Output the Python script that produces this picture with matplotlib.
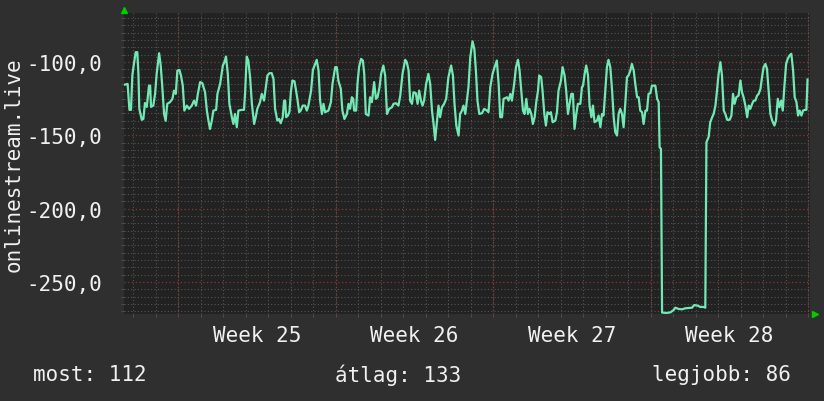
import numpy as np
import matplotlib
matplotlib.use("Agg")
import matplotlib.pyplot as plt
from matplotlib.ticker import FixedLocator, MultipleLocator, FuncFormatter

# time in days since the left edge of the graph, signal value
days = [0.04, 0.16, 0.24, 0.31, 0.37, 0.44, 0.52, 0.59, 0.64, 0.68, 0.79, 0.86, 0.93, 1.01, 1.11, 1.16,
        1.20, 1.30, 1.38, 1.45, 1.56, 1.63, 1.70, 1.78, 1.85, 1.92, 2.04, 2.15, 2.22, 2.30, 2.37, 2.46,
        2.53, 2.61, 2.68, 2.79, 2.89, 3.01, 3.11, 3.20, 3.28, 3.38, 3.48, 3.60, 3.68, 3.75, 3.82, 3.90,
        3.97, 4.09, 4.15, 4.27, 4.39, 4.46, 4.53, 4.61, 4.68, 4.79, 4.86, 4.93, 5.01, 5.08, 5.23, 5.33,
        5.38, 5.45, 5.52, 5.60, 5.68, 5.78, 5.85, 5.92, 6.04, 6.12, 6.22, 6.30, 6.37, 6.46, 6.56, 6.64,
        6.71, 6.81, 6.89, 6.96, 7.05, 7.11, 7.16, 7.20, 7.28, 7.35, 7.41, 7.48, 7.57, 7.63, 7.70, 7.78,
        7.85, 7.94, 8.04, 8.12, 8.19, 8.31, 8.39, 8.49, 8.56, 8.64, 8.71, 8.79, 8.86, 8.93, 9.08, 9.19,
        9.26, 9.38, 9.45, 9.52, 9.63, 9.70, 9.79, 9.90, 9.97, 10.04, 10.12, 10.18, 10.22, 10.31, 10.37,
        10.44, 10.53, 10.61, 10.67, 10.74, 10.86, 10.93, 11.01, 11.11, 11.19, 11.26, 11.35, 11.42, 11.52,
        11.60, 11.68, 11.78, 11.90, 11.97, 12.08, 12.19, 12.27, 12.37, 12.49, 12.56, 12.64, 12.71, 12.79,
        12.86, 12.96, 13.04, 13.11, 13.19, 13.26, 13.33, 13.42, 13.52, 13.60, 13.68, 13.75, 13.82, 13.90,
        13.97, 14.04, 14.12, 14.22, 14.31, 14.41, 14.53, 14.61, 14.68, 14.76, 14.86, 14.93, 15.01, 15.08,
        15.16, 15.23, 15.30, 15.38, 15.48, 15.56, 15.63, 15.70, 15.78, 15.90, 16.00, 16.12, 16.19, 16.27,
        16.37, 16.46, 16.56, 16.64, 16.71, 16.79, 16.86, 17.01, 17.08, 17.16, 17.23, 17.33, 17.41, 17.50,
        17.57, 17.64, 17.72, 17.79, 17.87, 17.94, 18.01, 18.09, 18.16, 18.24, 18.31, 18.39, 18.44, 18.53,
        18.59, 18.67, 18.74, 18.81, 18.89, 18.96, 19.04, 19.16, 19.23, 19.30, 19.41, 19.48, 19.57, 19.64,
        19.72, 19.79, 19.87, 19.94, 20.01, 20.09, 20.16, 20.27, 20.34, 20.39, 20.46, 20.53, 20.61, 20.68,
        20.76, 20.83, 20.90, 21.01, 21.08, 21.16, 21.23, 21.30, 21.38, 21.45, 21.52, 21.60, 21.68, 21.75,
        21.82, 21.90, 21.97, 22.04, 22.12, 22.19, 22.27, 22.34, 22.41, 22.49, 22.56, 22.64, 22.71, 22.79,
        22.86, 22.93, 23.01, 23.08, 23.16, 23.23, 23.30, 23.38, 23.45, 23.60, 23.68, 23.75, 23.79, 23.85,
        23.90, 24.09, 24.27, 24.41, 24.49, 24.64, 24.79, 24.93, 25.08, 25.23, 25.33, 25.48, 25.60, 25.75,
        25.82, 25.87, 25.97, 26.04, 26.13, 26.19, 26.27, 26.34, 26.41, 26.49, 26.56, 26.64, 26.71, 26.79,
        26.90, 26.98, 27.05, 27.12, 27.20, 27.30, 27.38, 27.45, 27.52, 27.60, 27.68, 27.75, 27.82, 27.90,
        27.97, 28.04, 28.12, 28.19, 28.27, 28.34, 28.41, 28.49, 28.56, 28.64, 28.71, 28.79, 28.89, 28.96,
        29.04, 29.11, 29.19, 29.26, 29.33, 29.41, 29.48, 29.56, 29.64, 29.72, 29.79, 29.87, 29.94, 30.01,
        30.09, 30.16, 30.24, 30.31, 30.36]

values = [-115.5, -115.0, -132.7, -132.7, -109.3, -101.4, -93.4, -93.4, -108.2, -132.0, -139.5, -138.9,
          -128.0, -130.7, -116.2, -116.2, -130.7, -129.8, -121.8, -108.2, -94.1, -102.5, -117.0, -135.5,
          -140.2, -128.6, -127.5, -125.2, -119.6, -121.8, -105.9, -105.5, -109.3, -116.2, -133.2, -129.8,
          -132.0, -129.8, -126.4, -129.8, -121.8, -113.8, -114.5, -120.7, -133.2, -140.0, -145.7, -140.0,
          -133.2, -132.7, -121.8, -115.0, -102.5, -100.2, -96.4, -108.2, -128.6, -137.7, -142.3, -135.5,
          -144.5, -133.2, -132.7, -132.7, -120.7, -96.4, -99.1, -110.4, -128.6, -142.3, -137.7, -132.0,
          -127.5, -121.8, -126.4, -117.2, -109.3, -107.7, -107.7, -111.6, -132.0, -140.0, -138.9, -141.8,
          -137.7, -126.4, -126.4, -137.7, -136.6, -133.9, -120.7, -112.7, -113.2, -118.4, -125.2, -134.3,
          -133.2, -129.8, -129.8, -133.2, -129.8, -119.6, -105.5, -101.4, -98.6, -105.9, -126.4, -135.5,
          -128.6, -134.3, -133.2, -127.5, -115.0, -103.6, -103.6, -112.7, -118.4, -133.2, -138.9, -135.5,
          -128.6, -132.0, -124.1, -125.2, -133.2, -133.2, -115.0, -103.6, -98.0, -99.1, -108.2, -135.5,
          -136.6, -124.1, -127.5, -113.8, -125.2, -124.1, -117.2, -108.2, -102.5, -109.3, -135.5, -132.0,
          -130.9, -128.6, -128.2, -129.8, -123.0, -108.2, -98.6, -100.2, -105.9, -126.4, -128.6, -120.7,
          -121.3, -128.6, -119.6, -126.4, -129.8, -126.4, -115.0, -108.2, -115.0, -133.2, -142.3, -153.2,
          -141.1, -129.8, -137.7, -130.9, -128.6, -125.2, -110.4, -102.5, -109.3, -128.6, -143.4, -150.2,
          -135.5, -133.2, -129.8, -135.5, -126.4, -117.2, -96.8, -86.0, -91.1, -105.9, -126.4, -135.5,
          -135.0, -132.0, -133.2, -134.3, -117.2, -108.2, -103.6, -99.1, -115.0, -137.7, -137.7, -125.2,
          -124.1, -126.4, -121.8, -126.4, -115.0, -103.6, -98.6, -105.9, -118.4, -133.2, -135.5, -125.2,
          -135.5, -132.0, -135.5, -142.3, -137.7, -127.5, -119.6, -109.3, -110.4, -119.6, -135.5, -143.4,
          -134.3, -135.5, -134.3, -141.1, -140.0, -134.3, -119.6, -112.7, -103.6, -109.3, -119.6, -135.5,
          -128.6, -121.8, -121.8, -145.7, -135.5, -128.6, -128.6, -117.2, -116.2, -108.2, -102.5, -109.3,
          -129.8, -137.7, -129.8, -141.1, -140.0, -136.6, -144.5, -135.5, -136.6, -118.4, -103.6, -98.6,
          -103.6, -119.6, -137.7, -147.9, -150.2, -135.5, -132.0, -135.5, -144.5, -127.5, -110.4, -109.3,
          -105.9, -101.4, -105.9, -115.0, -124.1, -124.1, -133.2, -134.3, -142.3, -133.2, -133.2, -121.8,
          -121.3, -116.2, -116.2, -125.2, -127.5, -158.2, -159.3, -270.8, -271.1, -270.7, -269.1, -267.5,
          -268.4, -268.6, -267.9, -267.7, -267.5, -265.7, -266.1, -267.0, -267.0, -267.5, -154.8, -151.1,
          -141.1, -137.5, -135.5, -129.8, -119.6, -108.2, -100.2, -109.3, -133.2, -135.5, -139.5, -139.5,
          -136.6, -121.8, -128.6, -124.1, -123.0, -112.7, -120.7, -124.1, -129.8, -137.7, -129.8, -132.0,
          -128.6, -126.4, -126.4, -123.0, -121.8, -118.4, -110.4, -103.6, -101.4, -104.8, -120.7, -135.5,
          -140.0, -143.4, -140.0, -125.2, -130.9, -126.4, -133.2, -117.2, -101.4, -98.0, -95.7, -94.5,
          -105.9, -124.1, -127.5, -136.6, -133.2, -136.6, -133.2, -132.7, -132.7, -112.0]

week_labels = ["Week 25", "Week 26", "Week 27", "Week 28"]
week_starts = [2.4, 9.4, 16.4, 23.4, 30.4]   # Monday 00:00 in graph days
major_y = [-100, -150, -200, -250]
stat_now, stat_avg, stat_best = 112, 133, 86

BG = "#2f2f2f"
CANVAS = "#222222"
LINE = "#72e8b4"
MINOR = "#555555"
MAJOR = "#853838"
TXT = "#f0f0f0"
FONT = "DejaVu Sans Mono"
FS = 15

fig = plt.figure(figsize=(8.24, 4.02), dpi=100, facecolor=BG)
ax = fig.add_axes([0.1505, 0.2164, 0.8325, 0.7488])
ax.set_facecolor(CANVAS)

ax.set_xlim(0, 30.47)
ax.set_ylim(-271.8, -66.7)

# grid: minor days / 5 units, major weeks / 50 units
ax.xaxis.set_minor_locator(MultipleLocator(1.0, offset=0.4))
ax.yaxis.set_minor_locator(MultipleLocator(5))
ax.grid(which="minor", color=MINOR, linestyle=(0, (1, 2)), linewidth=0.8)
for ws in week_starts:
    ax.axvline(ws, color=MAJOR, linestyle=(0, (1, 2)), linewidth=0.9, zorder=1.8)
for yv in major_y:
    ax.axhline(yv, color=MAJOR, linestyle=(0, (1, 2)), linewidth=0.9, zorder=1.8)

ax.plot(days, values, color=LINE, linewidth=1.6, zorder=3)

# ticks and labels
centers = [w + 3.5 for w in week_starts[:-1]]
ax.xaxis.set_major_locator(FixedLocator(centers))
ax.set_xticklabels(week_labels)
ax.yaxis.set_major_locator(FixedLocator(major_y))
ax.yaxis.set_major_formatter(FuncFormatter(lambda v, p: f"{v:.1f}".replace(".", ",")))
ax.tick_params(axis="both", which="major", length=0, labelsize=FS, labelcolor=TXT, pad=8)
ax.tick_params(axis="y", which="major", pad=16)
ax.tick_params(axis="both", which="minor", length=2, color=MINOR)
for lab in ax.get_xticklabels() + ax.get_yticklabels():
    lab.set_fontfamily(FONT)
for s in ax.spines.values():
    s.set_visible(False)

ax.set_ylabel("onlinestream.live", fontsize=FS, color=TXT, family=FONT)
ax.yaxis.set_label_coords(-0.146, 0.5)

# axis arrows
ax.plot([0], [1.011], marker="^", color="#00cc00", markersize=5, transform=ax.transAxes, clip_on=False)
ax.plot([1.008], [0], marker=">", color="#00cc00", markersize=5, transform=ax.transAxes, clip_on=False)

fig.text(0.04, 0.067, f"most: {stat_now}", fontsize=FS, color=TXT, family=FONT, ha="left", va="center")
fig.text(0.483, 0.067, f"átlag: {stat_avg}", fontsize=FS, color=TXT, family=FONT, ha="center", va="center")
fig.text(0.96, 0.067, f"legjobb: {stat_best}", fontsize=FS, color=TXT, family=FONT, ha="right", va="center")

fig.savefig("out.png", dpi=100, facecolor=BG)
